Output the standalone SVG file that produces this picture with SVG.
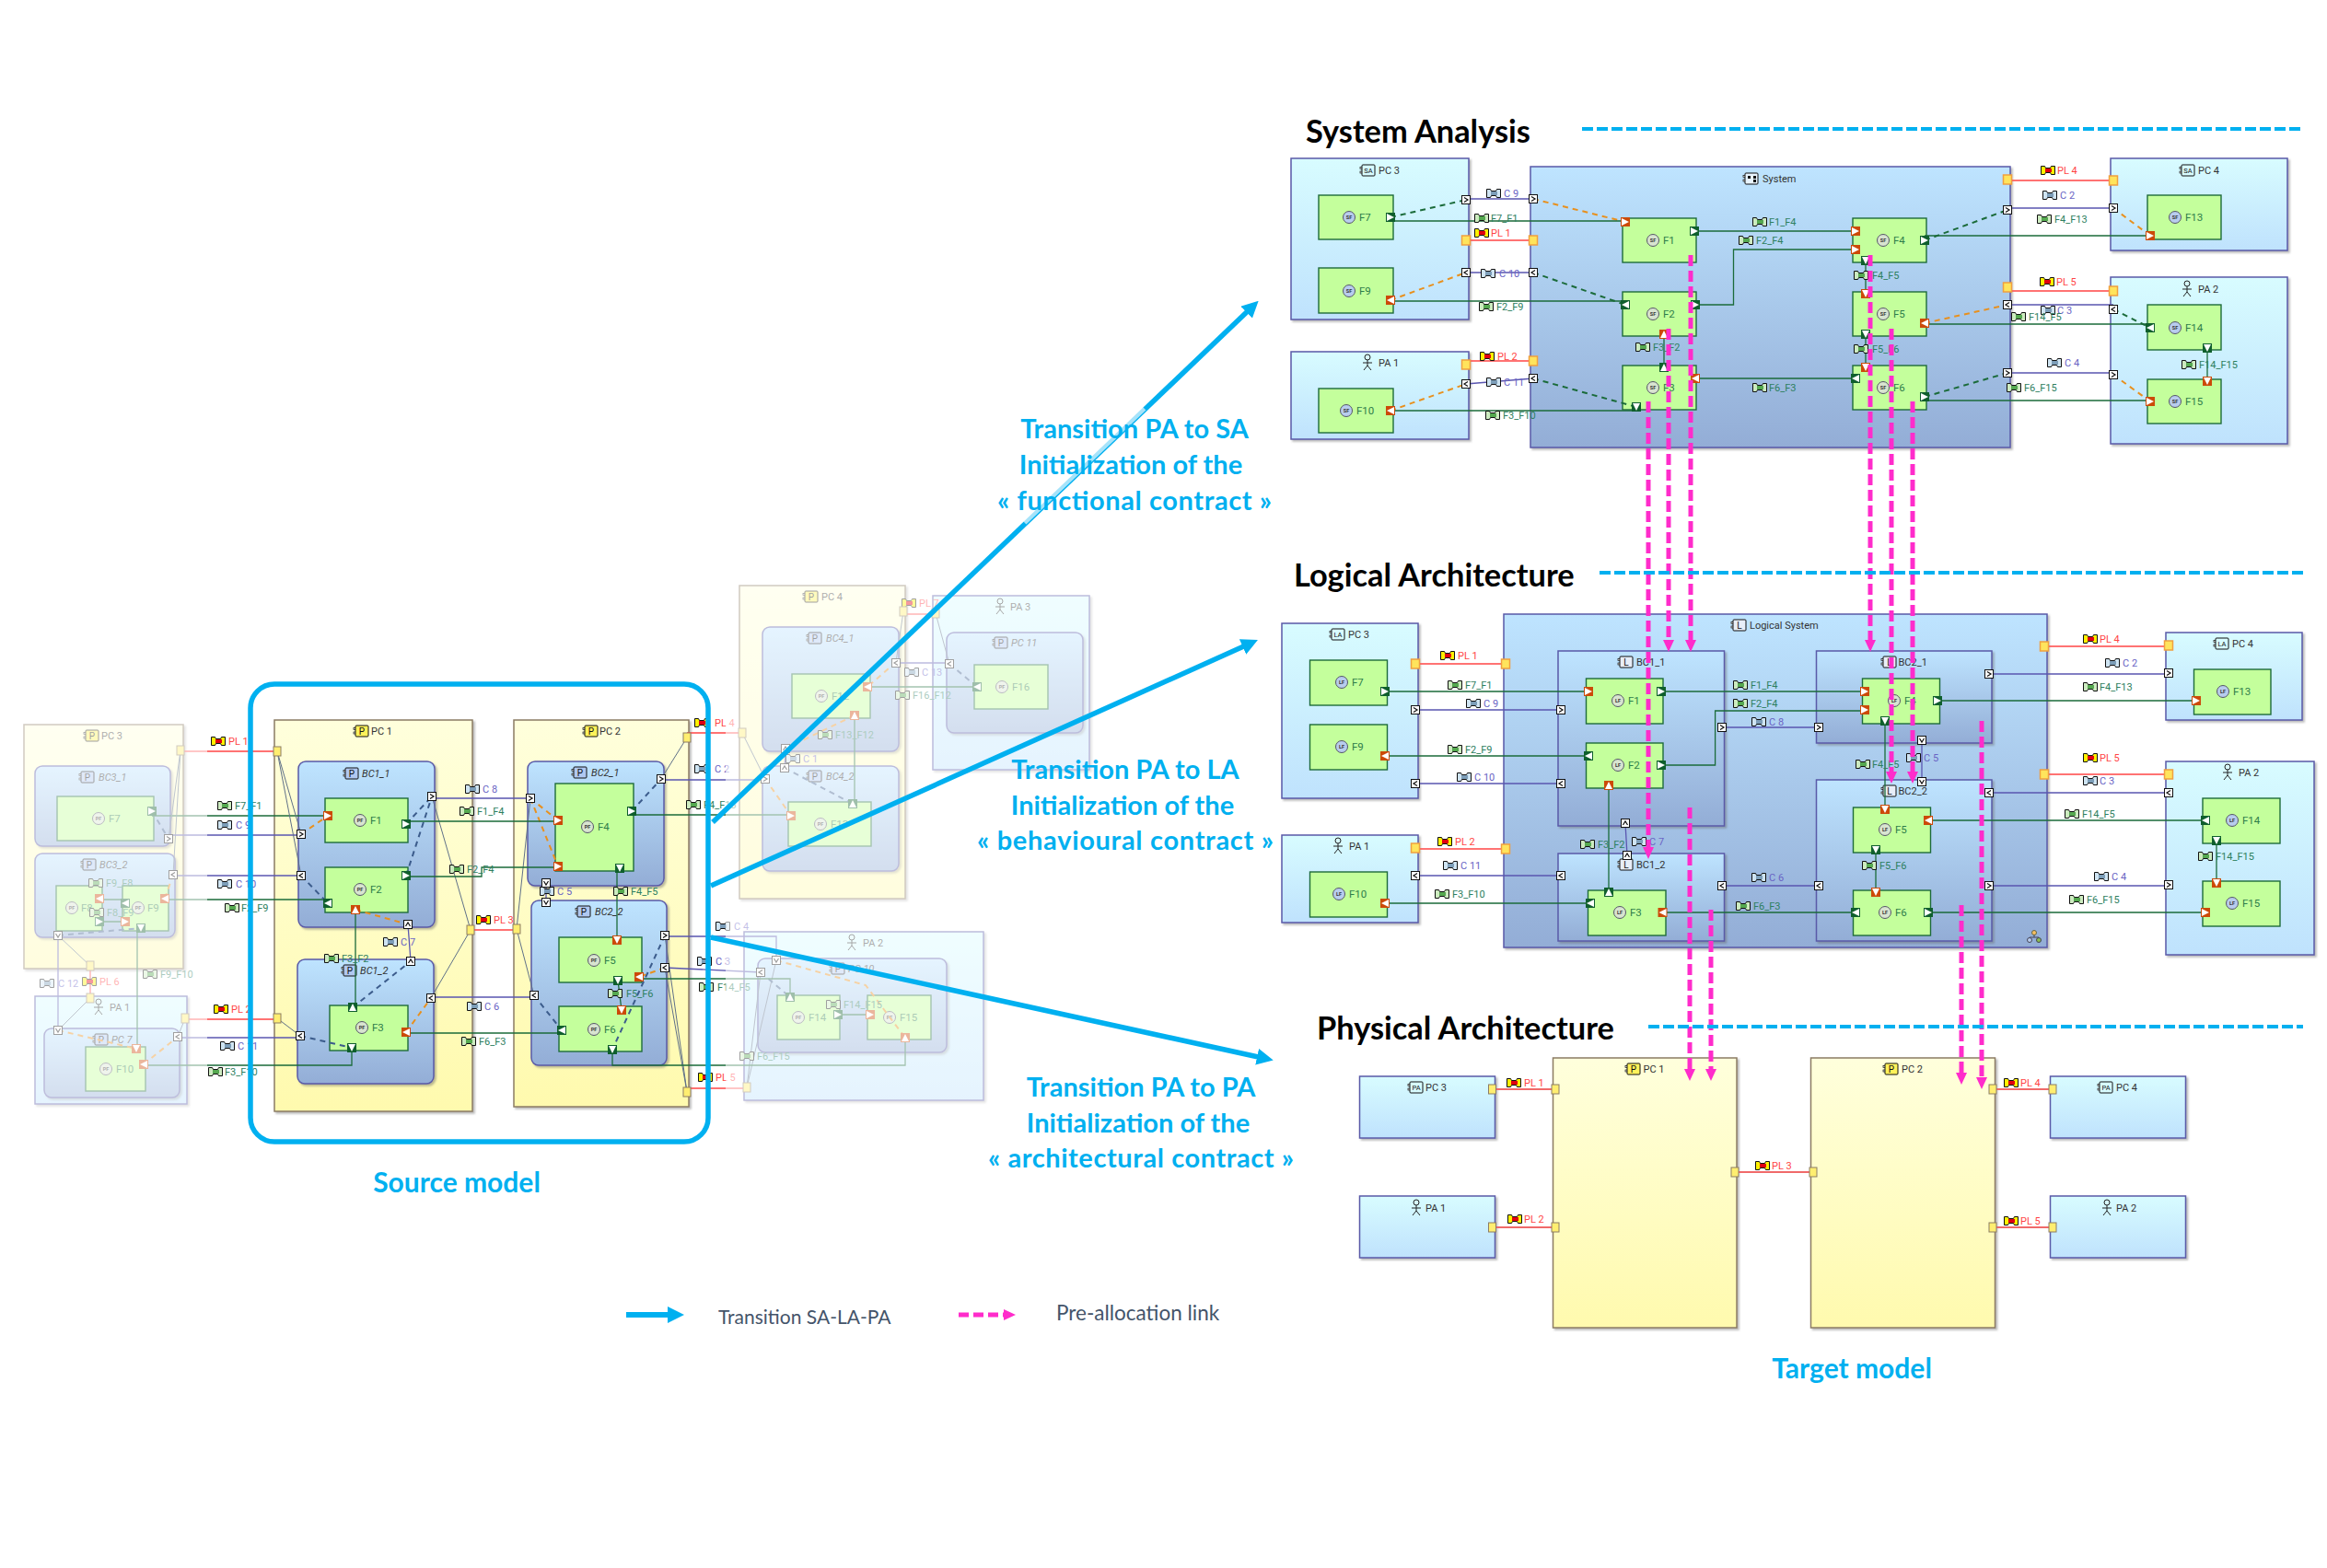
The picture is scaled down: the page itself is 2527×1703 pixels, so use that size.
<svg xmlns="http://www.w3.org/2000/svg" width="2527" height="1703" viewBox="0 0 2527 1703">
<style>
text{font-family:Roboto,"Liberation Sans",Arial,sans-serif;font-size:11px;fill:#444}
.big{font-family:Lato,"Liberation Sans",sans-serif;font-weight:700}
.h{font-size:34.4px;fill:#000}
.b{font-size:29px;fill:#00B0F0;text-anchor:middle}
.b2{font-size:30px;fill:#00B0F0;text-anchor:middle}
.leg{font-family:Lato,"Liberation Sans",sans-serif;font-size:21px;fill:#44546A}
.lf{fill:#2E8060}.lc{fill:#6A64C4}.lp{fill:#FF4545}.fn{fill:#2E7D4A;font-size:11.5px}
.t{fill:#333}.i{font-style:italic}
.ic{font-size:8.5px;fill:#111;text-anchor:middle}
.fi{font-size:5.5px;fill:#333;text-anchor:middle;font-weight:700}
.pc{fill:url(#gpc);stroke:#5A5AA8;stroke-width:1.5;filter:url(#sh)}
.sy{fill:url(#gsy);stroke:#5A5AA8;stroke-width:1.5;filter:url(#sh)}
.ph{fill:url(#gph);stroke:#8C7C64;stroke-width:1.5;filter:url(#sh)}
.fu{fill:#C4FF9C;stroke:#1E6B3A;stroke-width:1.4}
.fx{fill:none;stroke:#1B6B3A;stroke-width:1.3}
.cx{fill:none;stroke:#5A56B0;stroke-width:1.3}
.px{fill:none;stroke:#FF4545;stroke-width:1.4}
.dg{fill:none;stroke:#1B6B3A;stroke-width:2;stroke-dasharray:6 5}
.do{fill:none;stroke:#E8901E;stroke-width:2;stroke-dasharray:6 5}
.db{fill:none;stroke:#3C5C8C;stroke-width:2;stroke-dasharray:6 5}
.al{fill:none;stroke:#5F7088;stroke-width:1}
.mg{fill:none;stroke:#FF2CCB;stroke-width:5;stroke-dasharray:12 5;marker-end:url(#mh)}
.ba{fill:none;stroke:#00B0F0;stroke-width:5.5;marker-end:url(#bh)}
.dsh{fill:none;stroke:#00B0F0;stroke-width:4;stroke-dasharray:12 4}
</style>
<defs>
<linearGradient id="gpc" x1="0" y1="0" x2="0" y2="1"><stop offset="0" stop-color="#D8FCFF"/><stop offset="1" stop-color="#BFE2FD"/></linearGradient>
<linearGradient id="gsy" x1="0" y1="0" x2="0" y2="1"><stop offset="0" stop-color="#BEE4FF"/><stop offset="1" stop-color="#93ADD6"/></linearGradient>
<linearGradient id="gph" x1="0" y1="0" x2="0" y2="1"><stop offset="0" stop-color="#FFFFDC"/><stop offset="1" stop-color="#FFFAAE"/></linearGradient>
<filter id="sh" x="-5%" y="-5%" width="110%" height="110%"><feDropShadow dx="2" dy="2" stdDeviation="1" flood-color="#666" flood-opacity=".45"/></filter>
<marker id="mh" markerUnits="userSpaceOnUse" markerWidth="13" markerHeight="12" refX="5" refY="6" orient="auto"><path d="M0,0L13,6L0,12z" fill="#FF2CCB"/></marker>
<marker id="bh" markerUnits="userSpaceOnUse" markerWidth="18" markerHeight="18" refX="6" refY="9" orient="auto"><path d="M0,0L18,9L0,18z" fill="#00B0F0"/></marker>
<g id="fe"><path d="M-7.5,-4.5h4l1,2h5l1,-2h4v9h-4l-1,-2h-5l-1,2h-4z" fill="#CDEBC0" stroke="#111"/><rect x="-3" y="-2" width="7" height="4" fill="#55A850"/></g>
<g id="ce"><path d="M-7.5,-4.5h4l1,2h5l1,-2h4v9h-4l-1,-2h-5l-1,2h-4z" fill="#CFE4F2" stroke="#111"/><rect x="-3" y="-2" width="7" height="4" fill="#7C9DB8"/></g>
<g id="pl"><path d="M-7.5,-4.5h4l1,2h5l1,-2h4v9h-4l-1,-2h-5l-1,2h-4z" fill="#FFF000" stroke="#111"/><rect x="-3" y="-2" width="7" height="4" fill="#E00010"/></g>
<g id="por"><rect x="-5" y="-5" width="10" height="10" fill="#0F5F2D"/><path d="M-4,-4L4,0L-4,4z" fill="#fff"/></g>
<g id="pol"><use href="#por" transform="rotate(180)"/></g>
<g id="pou"><use href="#por" transform="rotate(-90)"/></g>
<g id="pod"><use href="#por" transform="rotate(90)"/></g>
<g id="pir"><rect x="-5" y="-5" width="10" height="10" fill="#CC4A08"/><path d="M-4,-4L4,0L-4,4z" fill="#fff"/></g>
<g id="pil"><use href="#pir" transform="rotate(180)"/></g>
<g id="piu"><use href="#pir" transform="rotate(-90)"/></g>
<g id="pid"><use href="#pir" transform="rotate(90)"/></g>
<g id="cr"><rect x="-4.5" y="-4.5" width="9" height="9" fill="#fff" stroke="#111" stroke-width="1"/><path d="M-2,-2.5L2,0L-2,2.5" fill="none" stroke="#111" stroke-width="1.2"/></g>
<g id="cl"><use href="#cr" transform="rotate(180)"/></g>
<g id="cu"><use href="#cr" transform="rotate(-90)"/></g>
<g id="cd"><use href="#cr" transform="rotate(90)"/></g>
<rect id="pp" x="-4.5" y="-5" width="9" height="10" fill="#FFE45C" stroke="#F0A040" stroke-width="1.5"/>
<rect id="ppv" x="-4" y="-5" width="8" height="10" fill="#FFEE70" stroke="#8C7C64" stroke-width="1"/>
<g id="lug"><rect x="-9" y="-3.5" width="3" height="2" fill="#fff" stroke="#111" stroke-width=".7"/><rect x="-9" y="1" width="3" height="2" fill="#fff" stroke="#111" stroke-width=".7"/></g>
<g id="icP"><use href="#lug"/><rect x="-7" y="-6" width="14" height="12" rx="1" fill="#FFF25A" stroke="#111"/><text class="ic" y="3.5" style="font-size:10px">P</text></g>
<g id="icPb"><use href="#lug"/><rect x="-7" y="-6" width="14" height="12" rx="1" fill="#B0C8F0" stroke="#111"/><text class="ic" y="3.5" style="font-size:10px">P</text></g>
<g id="icL"><use href="#lug"/><rect x="-7" y="-6" width="14" height="12" rx="1" fill="#E8EEF8" stroke="#111"/><text class="ic" y="3.5" style="font-size:10px">L</text></g>
<g id="icSA"><use href="#lug"/><rect x="-7" y="-6" width="14" height="12" rx="1" fill="#D8FCFF" stroke="#111"/><text class="ic" y="3" style="font-size:7.5px">SA</text></g>
<g id="icLA"><use href="#lug"/><rect x="-7" y="-6" width="14" height="12" rx="1" fill="#D8FCFF" stroke="#111"/><text class="ic" y="3" style="font-size:7.5px">LA</text></g>
<g id="icPA"><use href="#lug"/><rect x="-7" y="-6" width="14" height="12" rx="1" fill="#D8FCFF" stroke="#111"/><text class="ic" y="3" style="font-size:7.5px">PA</text></g>
<g id="icS"><use href="#lug"/><rect x="-7" y="-6" width="14" height="12" rx="1" fill="#E8F4FF" stroke="#111"/><path d="M-4,-3h3v3h-3zM2,-3h3v3h-3zM2,1h3v3h-3z" fill="#111"/></g>
<g id="actor" fill="none" stroke="#222" stroke-width="1"><circle cy="-6" r="3"/><path d="M0,-3V3M-5,0H5M0,3L-4,8M0,3L4,8"/></g>
<g id="sfb"><circle r="6.5" fill="#B8CCEE" stroke="#556"/><text class="fi" y="2">SF</text></g>
<g id="sfg"><circle r="6.5" fill="#D8E4D0" stroke="#556"/><text class="fi" y="2">SF</text></g>
<g id="lfb"><circle r="6.5" fill="#B8CCEE" stroke="#556"/><text class="fi" y="2">LF</text></g>
<g id="lfg"><circle r="6.5" fill="#D8E4D0" stroke="#556"/><text class="fi" y="2">LF</text></g>
<g id="pfg"><circle r="6.5" fill="#D8E4D0" stroke="#556"/><text class="fi" y="2">PF</text></g>
</defs>
<rect width="2527" height="1703" fill="#fff"/>

<g id="source-nodes">
<g id="s-pc3"><rect class="ph" x="26" y="787" width="173" height="265"/><use href="#icP" x="100" y="799"/><text class="t" x="110" y="803">PC 3</text></g>
<g id="s-bc31"><rect class="sy" x="38" y="832" width="147" height="87" rx="8"/><use href="#icPb" x="95" y="844"/><text class="t i" x="107" y="848">BC3_1</text><rect class="fu" x="62" y="865" width="105" height="48"/><use href="#pfg" x="107" y="889"/><text class="fn" x="118" y="893">F7</text></g>
<g id="s-bc32"><rect class="sy" x="38" y="927" width="152" height="91" rx="8"/><use href="#icPb" x="97" y="939"/><text class="t i" x="108" y="943">BC3_2</text><rect class="fu" x="61" y="962" width="50" height="49"/><use href="#pfg" x="78" y="986"/><text class="fn" x="88" y="990">F8</text><rect class="fu" x="133" y="962" width="50" height="49"/><use href="#pfg" x="150" y="986"/><text class="fn" x="160" y="990">F9</text></g>
<g id="s-pa1"><rect class="pc" x="38" y="1082" width="165" height="117"/><use href="#actor" x="107" y="1094"/><text class="t" x="119" y="1098">PA 1</text></g>
<g id="s-pc7"><rect class="sy" x="48" y="1117" width="147" height="75" rx="8"/><use href="#icPb" x="110" y="1129"/><text class="t i" x="121" y="1133">PC 7</text><rect class="fu" x="93" y="1137" width="65" height="48"/><use href="#pfg" x="115" y="1161"/><text class="fn" x="126" y="1165">F10</text></g>
<g id="s-pc1"><rect class="ph" x="298" y="782" width="215" height="425"/><use href="#icP" x="393" y="794"/><text class="t" x="403" y="798">PC 1</text></g>
<g id="s-bc11"><rect class="sy" x="324" y="827" width="148" height="180" rx="8"/><use href="#icPb" x="382" y="840"/><text class="t i" x="393" y="844">BC1_1</text><rect class="fu" x="353" y="867" width="90" height="48"/><use href="#pfg" x="391" y="891"/><text class="fn" x="402" y="895">F1</text><rect class="fu" x="353" y="942" width="90" height="49"/><use href="#pfg" x="391" y="966"/><text class="fn" x="402" y="970">F2</text></g>
<g id="s-bc12"><rect class="sy" x="323" y="1042" width="148" height="135" rx="8"/><use href="#icPb" x="380" y="1054"/><text class="t i" x="391" y="1058">BC1_2</text><rect class="fu" x="358" y="1092" width="85" height="49"/><use href="#pfg" x="393" y="1116"/><text class="fn" x="404" y="1120">F3</text></g>
<g id="s-pc2"><rect class="ph" x="558" y="782" width="190" height="420"/><use href="#icP" x="642" y="794"/><text class="t" x="651" y="798">PC 2</text></g>
<g id="s-bc21"><rect class="sy" x="573" y="827" width="148" height="135" rx="8"/><use href="#icPb" x="630" y="839"/><text class="t i" x="642" y="843">BC2_1</text><rect class="fu" x="603" y="851" width="85" height="95"/><use href="#pfg" x="638" y="898"/><text class="fn" x="649" y="902">F4</text></g>
<g id="s-bc22"><rect class="sy" x="577" y="978" width="147" height="179" rx="8"/><use href="#icPb" x="634" y="990"/><text class="t i" x="646" y="994">BC2_2</text><rect class="fu" x="607" y="1018" width="90" height="49"/><use href="#pfg" x="645" y="1043"/><text class="fn" x="656" y="1047">F5</text><rect class="fu" x="607" y="1093" width="90" height="49"/><use href="#pfg" x="645" y="1118"/><text class="fn" x="656" y="1122">F6</text></g>
<g id="s-pc4"><rect class="ph" x="803" y="636" width="180" height="340"/><use href="#icP" x="881" y="648"/><text class="t" x="892" y="652">PC 4</text></g>
<g id="s-bc41"><rect class="sy" x="828" y="681" width="148" height="135" rx="8"/><use href="#icPb" x="885" y="693"/><text class="t i" x="897" y="697">BC4_1</text><rect class="fu" x="860" y="732" width="85" height="48"/><use href="#pfg" x="892" y="756"/><text class="fn" x="903" y="760">F12</text></g>
<g id="s-bc42"><rect class="sy" x="828" y="832" width="148" height="114" rx="8"/><use href="#icPb" x="885" y="843"/><text class="t i" x="897" y="847">BC4_2</text><rect class="fu" x="856" y="871" width="90" height="48"/><use href="#pfg" x="891" y="895"/><text class="fn" x="902" y="899">F13</text></g>
<g id="s-pa3"><rect class="pc" x="1013" y="647" width="170" height="189"/><use href="#actor" x="1086" y="659"/><text class="t" x="1097" y="663">PA 3</text></g>
<g id="s-pc11"><rect class="sy" x="1028" y="687" width="148" height="109" rx="8"/><use href="#icPb" x="1087" y="698"/><text class="t i" x="1098" y="702">PC 11</text><rect class="fu" x="1058" y="722" width="80" height="48"/><use href="#pfg" x="1088" y="746"/><text class="fn" x="1099" y="750">F16</text></g>
<g id="s-pa2"><rect class="pc" x="808" y="1012" width="260" height="183"/><use href="#actor" x="925" y="1024"/><text class="t" x="937" y="1028">PA 2</text></g>
<g id="s-pc10"><rect class="sy" x="823" y="1041" width="205" height="102" rx="8"/><use href="#icPb" x="910" y="1052"/><text class="t i" x="921" y="1056">PC 10</text><rect class="fu" x="844" y="1081" width="68" height="48"/><use href="#pfg" x="867" y="1105"/><text class="fn" x="878" y="1109">F14</text><rect class="fu" x="942" y="1081" width="69" height="48"/><use href="#pfg" x="966" y="1105"/><text class="fn" x="977" y="1109">F15</text></g>
</g>

<g id="source-connectors">
<path class="px" d="M196,816H301"/><path class="fx" d="M165,886H356"/><path class="cx" d="M183,907H327"/><path class="cx" d="M188,951H327"/><path class="fx" d="M179,977H356"/><path class="px" d="M201,1107H301"/><path class="cx" d="M193,1127H326"/><path class="fx" d="M156,1157H382V1138"/>
<path class="al" d="M301,816L327,906M301,816L327,951M301,1106L326,1125M511,1010L469,865M511,1010L468,1084M561,1009L576,867M561,1009L580,1081M746,801L718,846M746,1186L722,1016M746,1186L722,1051M196,815L183,911M196,815L188,950M98,1049L63,1016M98,1084L63,1119M201,1106L193,1126M806,796L831,846M981,664L973,719M1016,666L1031,721M811,1181L826,1056M811,1181L843,1043"/>
<path class="do" d="M327,906L356,886M386,988L443,1004M441,1121L468,1084M576,867L606,891M576,867L606,941M722,1051L694,1061M179,976L188,950M63,1119L148,1139M156,1156L193,1126M973,719L942,746M853,813L928,777M831,846L859,886M843,1043L940,1070L983,1127"/>
<path class="db" d="M327,951L356,981M441,895L469,865M441,951L469,865M383,1094L446,1044M326,1125L382,1138M580,1081L610,1119M722,1016L665,1140M686,881L718,846M165,881L183,911M63,1016L153,1008M1031,721L1061,746M852,834L926,873M826,1056L858,1083"/>
<path class="fx" d="M386,988V1094M441,892H606M441,952H523V942H606M441,1122H610M670,946V1021M671,1065L675,1097M686,885H859M694,1063H858V1083M665,1140V1157H983V1127M108,977H136M108,1001H136M149,1008V1139M942,746H1061M928,777V873M910,1102H945"/>
<path class="cx" d="M443,1004L446,1044M469,867H576M468,1083H580M593,959V980M718,847H831M722,1017H843V1043M722,1051L826,1056M63,1016V1119M973,720H1031M853,813L852,834"/>
<path class="px" d="M511,1010H561M746,796H806M746,1182H811M98,1049V1084M981,667H1016"/>
<use href="#pl" x="237" y="805"/><text class="lp" x="248" y="809">PL 1</text>
<use href="#fe" x="244" y="875"/><text class="lf" x="255" y="879">F7_F1</text>
<use href="#ce" x="244" y="896"/><text class="lc" x="256" y="900">C 9</text>
<use href="#ce" x="244" y="960"/><text class="lc" x="256" y="964">C 10</text>
<use href="#fe" x="252" y="986"/><text class="lf" x="262" y="990">F2_F9</text>
<use href="#pl" x="240" y="1096"/><text class="lp" x="251" y="1100">PL 2</text>
<use href="#ce" x="247" y="1136"/><text class="lc" x="258" y="1140">C 11</text>
<use href="#fe" x="234" y="1164"/><text class="lf" x="244" y="1168">F3_F10</text>
<use href="#ce" x="513" y="857"/><text class="lc" x="524" y="861">C 8</text>
<use href="#fe" x="507" y="881"/><text class="lf" x="518" y="885">F1_F4</text>
<use href="#fe" x="496" y="944"/><text class="lf" x="507" y="948">F2_F4</text>
<use href="#pl" x="525" y="999"/><text class="lp" x="536" y="1003">PL 3</text>
<use href="#ce" x="424" y="1023"/><text class="lc" x="435" y="1027">C 7</text>
<use href="#fe" x="360" y="1041"/><text class="lf" x="371" y="1045">F3_F2</text>
<use href="#ce" x="515" y="1093"/><text class="lc" x="526" y="1097">C 6</text>
<use href="#fe" x="509" y="1131"/><text class="lf" x="520" y="1135">F6_F3</text>
<use href="#ce" x="594" y="968"/><text class="lc" x="605" y="972">C 5</text>
<use href="#fe" x="674" y="968"/><text class="lf" x="685" y="972">F4_F5</text>
<use href="#fe" x="668" y="1079"/><text class="lf" x="680" y="1083">F5_F6</text>
<use href="#pl" x="762" y="785"/><text class="lp" x="776" y="789">PL 4</text>
<use href="#ce" x="762" y="835"/><text class="lc" x="776" y="839">C 2</text>
<use href="#fe" x="753" y="874"/><text class="lf" x="764" y="878">F4_F13</text>
<use href="#ce" x="785" y="1006"/><text class="lc" x="797" y="1010">C 4</text>
<use href="#ce" x="765" y="1044"/><text class="lc" x="777" y="1048">C 3</text>
<use href="#fe" x="767" y="1072"/><text class="lf" x="779" y="1076">F14_F5</text>
<use href="#fe" x="811" y="1147"/><text class="lf" x="822" y="1151">F6_F15</text>
<use href="#pl" x="766" y="1170"/><text class="lp" x="777" y="1174">PL 5</text>
<use href="#pl" x="97" y="1066"/><text class="lp" x="108" y="1070">PL 6</text>
<use href="#ce" x="51" y="1068"/><text class="lc" x="63" y="1072">C 12</text>
<use href="#fe" x="163" y="1058"/><text class="lf" x="174" y="1062">F9_F10</text>
<use href="#fe" x="104" y="959"/><text class="lf" x="115" y="963">F9_F8</text>
<use href="#fe" x="105" y="991"/><text class="lf" x="116" y="995">F8_F9</text>
<use href="#pl" x="987" y="655"/><text class="lp" x="998" y="659">PL 7</text>
<use href="#ce" x="990" y="730"/><text class="lc" x="1001" y="734">C 13</text>
<use href="#fe" x="980" y="755"/><text class="lf" x="991" y="759">F16_F12</text>
<use href="#fe" x="896" y="798"/><text class="lf" x="907" y="802">F13_F12</text>
<use href="#ce" x="861" y="824"/><text class="lc" x="872" y="828">C 1</text>
<use href="#fe" x="905" y="1091"/><text class="lf" x="916" y="1095">F14_F15</text>
</g>

<g id="source-ports">
<use href="#ppv" x="301" y="816"/><use href="#ppv" x="301" y="1106"/><use href="#ppv" x="511" y="1010"/><use href="#ppv" x="561" y="1009"/><use href="#ppv" x="746" y="801"/><use href="#ppv" x="746" y="1186"/>
<use href="#ppv" x="196" y="815"/><use href="#ppv" x="98" y="1049"/><use href="#ppv" x="98" y="1084"/><use href="#ppv" x="201" y="1106"/><use href="#ppv" x="806" y="796"/><use href="#ppv" x="811" y="1181"/><use href="#ppv" x="981" y="664"/><use href="#ppv" x="1016" y="666"/>
<use href="#pir" x="356" y="886"/><use href="#por" x="441" y="895"/><use href="#por" x="441" y="951"/><use href="#pol" x="356" y="981"/><use href="#piu" x="386" y="988"/><use href="#pou" x="383" y="1094"/><use href="#pod" x="382" y="1138"/><use href="#pil" x="441" y="1121"/>
<use href="#pir" x="606" y="891"/><use href="#pir" x="606" y="941"/><use href="#por" x="686" y="881"/><use href="#pod" x="673" y="943"/><use href="#pid" x="670" y="1021"/><use href="#pod" x="671" y="1065"/><use href="#pil" x="694" y="1061"/><use href="#pid" x="675" y="1097"/><use href="#pol" x="610" y="1119"/><use href="#pod" x="665" y="1140"/>
<use href="#cr" x="327" y="906"/><use href="#cl" x="327" y="951"/><use href="#cu" x="443" y="1004"/><use href="#cu" x="446" y="1044"/><use href="#cl" x="326" y="1125"/><use href="#cl" x="468" y="1084"/><use href="#cl" x="580" y="1081"/><use href="#cr" x="469" y="865"/><use href="#cr" x="576" y="867"/><use href="#cr" x="718" y="846"/><use href="#cd" x="593" y="959"/><use href="#cd" x="593" y="980"/><use href="#cr" x="722" y="1016"/><use href="#cl" x="722" y="1051"/>
<use href="#por" x="165" y="881"/><use href="#cr" x="183" y="911"/><use href="#cl" x="188" y="950"/><use href="#pil" x="179" y="976"/><use href="#pil" x="108" y="976"/><use href="#pol" x="136" y="981"/><use href="#por" x="108" y="1001"/><use href="#pir" x="136" y="1001"/><use href="#pod" x="153" y="1008"/><use href="#cd" x="63" y="1016"/><use href="#cd" x="63" y="1119"/><use href="#pid" x="148" y="1139"/><use href="#cl" x="193" y="1126"/><use href="#pil" x="156" y="1156"/>
<use href="#cr" x="831" y="846"/><use href="#pir" x="859" y="886"/><use href="#cu" x="853" y="813"/><use href="#cu" x="852" y="834"/><use href="#piu" x="928" y="777"/><use href="#pou" x="926" y="873"/><use href="#pil" x="942" y="746"/><use href="#cl" x="973" y="720"/><use href="#cl" x="1031" y="721"/><use href="#pol" x="1061" y="746"/>
<use href="#cl" x="826" y="1056"/><use href="#cd" x="843" y="1043"/><use href="#pou" x="858" y="1083"/><use href="#por" x="910" y="1102"/><use href="#pir" x="945" y="1102"/><use href="#piu" x="983" y="1127"/>
</g>
<rect id="fade-left" x="0" y="760" width="225" height="460" fill="#fff" opacity=".6"/>
<rect id="fade-right" x="788" y="620" width="400" height="600" fill="#fff" opacity=".6"/>

<g id="sa-nodes">
<g id="sa-pc3"><rect class="pc" x="1402" y="172" width="193" height="175"/><use href="#icSA" x="1486" y="185"/><text class="t" x="1497" y="189">PC 3</text><rect class="fu" x="1432" y="212" width="81" height="48"/><use href="#sfb" x="1465" y="236"/><text class="fn" x="1476" y="240">F7</text><rect class="fu" x="1432" y="291" width="81" height="49"/><use href="#sfb" x="1465" y="316"/><text class="fn" x="1476" y="320">F9</text></g>
<g id="sa-pa1"><rect class="pc" x="1402" y="382" width="193" height="95"/><use href="#actor" x="1485" y="394"/><text class="t" x="1497" y="398">PA 1</text><rect class="fu" x="1432" y="422" width="81" height="48"/><use href="#sfb" x="1462" y="446"/><text class="fn" x="1473" y="450">F10</text></g>
<g id="sa-system"><rect class="sy" x="1662" y="181" width="521" height="305"/><use href="#icS" x="1902" y="194"/><text class="t" x="1914" y="198">System</text>
<rect class="fu" x="1762" y="237" width="80" height="48"/><use href="#sfg" x="1795" y="261"/><text class="fn" x="1806" y="265">F1</text>
<rect class="fu" x="1762" y="317" width="80" height="48"/><use href="#sfg" x="1795" y="341"/><text class="fn" x="1806" y="345">F2</text>
<rect class="fu" x="1762" y="397" width="80" height="48"/><use href="#sfg" x="1795" y="421"/><text class="fn" x="1806" y="425">F3</text>
<rect class="fu" x="2012" y="237" width="80" height="48"/><use href="#sfg" x="2045" y="261"/><text class="fn" x="2056" y="265">F4</text>
<rect class="fu" x="2012" y="317" width="80" height="48"/><use href="#sfg" x="2045" y="341"/><text class="fn" x="2056" y="345">F5</text>
<rect class="fu" x="2012" y="397" width="80" height="48"/><use href="#sfg" x="2045" y="421"/><text class="fn" x="2056" y="425">F6</text></g>
<g id="sa-pc4"><rect class="pc" x="2292" y="172" width="192" height="100"/><use href="#icSA" x="2376" y="185"/><text class="t" x="2387" y="189">PC 4</text><rect class="fu" x="2332" y="212" width="80" height="48"/><use href="#sfb" x="2362" y="236"/><text class="fn" x="2373" y="240">F13</text></g>
<g id="sa-pa2"><rect class="pc" x="2292" y="301" width="192" height="181"/><use href="#actor" x="2375" y="314"/><text class="t" x="2387" y="318">PA 2</text><rect class="fu" x="2332" y="331" width="80" height="49"/><use href="#sfb" x="2362" y="356"/><text class="fn" x="2373" y="360">F14</text><rect class="fu" x="2332" y="412" width="80" height="48"/><use href="#sfb" x="2362" y="436"/><text class="fn" x="2373" y="440">F15</text></g>
</g>

<g id="sa-connectors">
<path class="cx" d="M1592,216H1665M1592,296H1665M1592,417L1665,411M2180,226H2295M2180,331H2295M2180,405L2295,405"/>
<path class="px" d="M1592,261H1665M1592,392H1665M2180,196H2295M2180,316H2295"/>
<path class="dg" d="M1510,236L1592,217M1665,296L1765,331M1665,411L1777,442M2090,261L2180,228M2295,336L2335,356M2090,431L2180,405"/>
<path class="do" d="M1665,216L1765,241M1510,326L1592,296M1510,446L1592,417M2295,226L2335,256M2090,351L2180,331M2295,407L2335,436"/>
<path class="fx" d="M1510,240H1765M1510,327H1765M1510,446H1777M1840,251H2015M1841,331H1882.5V271H2015M1807,363V399M1841,411H2015M2026,283V319M2026,363V399M2090,256H2335M2090,352H2335M2090,435H2335M2397,378V414"/>
<use href="#ce" x="1622" y="210"/><text class="lc" x="1633" y="214">C 9</text>
<use href="#fe" x="1609" y="237"/><text class="lf" x="1619" y="241">F7_F1</text>
<use href="#pl" x="1609" y="253"/><text class="lp" x="1619" y="257">PL 1</text>
<use href="#ce" x="1616" y="297"/><text class="lc" x="1628" y="301">C 10</text>
<use href="#fe" x="1614" y="333"/><text class="lf" x="1625" y="337">F2_F9</text>
<use href="#pl" x="1615" y="387"/><text class="lp" x="1626" y="391">PL 2</text>
<use href="#ce" x="1622" y="415"/><text class="lc" x="1633" y="419">C 11</text>
<use href="#fe" x="1621" y="451"/><text class="lf" x="1632" y="455">F3_F10</text>
<use href="#fe" x="1911" y="241"/><text class="lf" x="1921" y="245">F1_F4</text>
<use href="#fe" x="1896" y="261"/><text class="lf" x="1907" y="265">F2_F4</text>
<use href="#fe" x="1784" y="377"/><text class="lf" x="1795" y="381">F3_F2</text>
<use href="#fe" x="1911" y="421"/><text class="lf" x="1921" y="425">F6_F3</text>
<use href="#fe" x="2021" y="299"/><text class="lf" x="2033" y="303">F4_F5</text>
<use href="#fe" x="2021" y="379"/><text class="lf" x="2033" y="383">F5_F6</text>
<use href="#pl" x="2224" y="185"/><text class="lp" x="2234" y="189">PL 4</text>
<use href="#ce" x="2226" y="212"/><text class="lc" x="2237" y="216">C 2</text>
<use href="#fe" x="2220" y="238"/><text class="lf" x="2231" y="242">F4_F13</text>
<use href="#pl" x="2223" y="306"/><text class="lp" x="2233" y="310">PL 5</text>
<use href="#ce" x="2224" y="337"/><text class="lc" x="2234" y="341">C 3</text>
<use href="#fe" x="2192" y="344"/><text class="lf" x="2203" y="348">F14_F5</text>
<use href="#ce" x="2231" y="394"/><text class="lc" x="2242" y="398">C 4</text>
<use href="#fe" x="2187" y="421"/><text class="lf" x="2198" y="425">F6_F15</text>
<use href="#fe" x="2377" y="396"/><text class="lf" x="2388" y="400">F14_F15</text>
</g>

<g id="sa-ports">
<use href="#cr" x="1592" y="217"/><use href="#cr" x="1665" y="216"/><use href="#pp" x="1592" y="261"/><use href="#pp" x="1665" y="261"/><use href="#cl" x="1592" y="296"/><use href="#cl" x="1665" y="296"/><use href="#pp" x="1592" y="396"/><use href="#pp" x="1665" y="392"/><use href="#cl" x="1592" y="417"/><use href="#cl" x="1665" y="411"/>
<use href="#por" x="1510" y="236"/><use href="#pil" x="1510" y="326"/><use href="#pil" x="1510" y="446"/><use href="#pir" x="1765" y="241"/><use href="#pol" x="1765" y="331"/><use href="#pod" x="1777" y="442"/><use href="#por" x="1840" y="251"/><use href="#por" x="1841" y="331"/><use href="#piu" x="1807" y="363"/><use href="#pou" x="1807" y="399"/><use href="#pil" x="1841" y="411"/>
<use href="#pir" x="2015" y="251"/><use href="#pir" x="2015" y="271"/><use href="#pol" x="2015" y="411"/><use href="#pod" x="2026" y="283"/><use href="#pid" x="2026" y="319"/><use href="#pod" x="2026" y="363"/><use href="#pid" x="2026" y="399"/><use href="#por" x="2090" y="261"/><use href="#pil" x="2090" y="351"/><use href="#por" x="2090" y="431"/>
<use href="#pp" x="2180" y="195"/><use href="#pp" x="2295" y="196"/><use href="#cr" x="2180" y="228"/><use href="#cr" x="2295" y="226"/><use href="#pp" x="2180" y="312"/><use href="#pp" x="2295" y="316"/><use href="#cl" x="2180" y="331"/><use href="#cl" x="2295" y="336"/><use href="#cr" x="2180" y="405"/><use href="#cr" x="2295" y="407"/>
<use href="#pir" x="2335" y="256"/><use href="#pol" x="2335" y="356"/><use href="#pir" x="2335" y="436"/><use href="#pod" x="2397" y="378"/><use href="#pid" x="2397" y="414"/>
</g>

<g id="la-nodes">
<g id="la-pc3"><rect class="pc" x="1392" y="677" width="148" height="190"/><use href="#icLA" x="1453" y="689"/><text class="t" x="1464" y="693">PC 3</text><rect class="fu" x="1422.5" y="717" width="84" height="49"/><use href="#lfb" x="1457" y="741"/><text class="fn" x="1468" y="745">F7</text><rect class="fu" x="1422.5" y="787" width="84" height="49"/><use href="#lfb" x="1457" y="811"/><text class="fn" x="1468" y="815">F9</text></g>
<g id="la-pa1"><rect class="pc" x="1392" y="907" width="148" height="95"/><use href="#actor" x="1453" y="919"/><text class="t" x="1465" y="923">PA 1</text><rect class="fu" x="1422.5" y="947" width="84" height="49"/><use href="#lfb" x="1454" y="971"/><text class="fn" x="1465" y="975">F10</text></g>
<g id="la-system"><rect class="sy" x="1633" y="667" width="590" height="362"/><use href="#icL" x="1889" y="679"/><text class="t" x="1900" y="683">Logical System</text>
<g transform="translate(2209,1017)"><circle cy="-4" r="2.5" fill="#F8C060" stroke="#664"/><path d="M0,-1.5V1M-5,1H5" fill="none" stroke="#445"/><circle cx="-5" cy="4" r="2.5" fill="#B8CCEE" stroke="#445"/><circle cx="5" cy="4" r="2.5" fill="#8CBF50" stroke="#445"/></g></g>
<g id="la-bc11"><rect class="sy" x="1692" y="707" width="180.5" height="190"/><use href="#icL" x="1766" y="719"/><text class="t" x="1777" y="723">BC1_1</text><rect class="fu" x="1722.5" y="737" width="83.5" height="49"/><use href="#lfg" x="1757" y="761"/><text class="fn" x="1768" y="765">F1</text><rect class="fu" x="1722.5" y="807" width="83.5" height="49"/><use href="#lfg" x="1757" y="831"/><text class="fn" x="1768" y="835">F2</text></g>
<g id="la-bc12"><rect class="sy" x="1692" y="927" width="180.5" height="95"/><use href="#icL" x="1766" y="939"/><text class="t" x="1777" y="943">BC1_2</text><rect class="fu" x="1724.5" y="967" width="84.5" height="49"/><use href="#lfg" x="1759" y="991"/><text class="fn" x="1770" y="995">F3</text></g>
<g id="la-bc21"><rect class="sy" x="1972.5" y="707" width="190.5" height="100"/><use href="#icL" x="2052" y="719"/><text class="t" x="2061.5" y="723">BC2_1</text><rect class="fu" x="2022.5" y="737" width="84" height="49"/><use href="#lfg" x="2057" y="761"/><text class="fn" x="2068" y="765">F4</text></g>
<g id="la-bc22"><rect class="sy" x="1972.5" y="847" width="190.5" height="175"/><use href="#icL" x="2052" y="859"/><text class="t" x="2061.5" y="863">BC2_2</text><rect class="fu" x="2012.5" y="877" width="84" height="49"/><use href="#lfg" x="2047" y="901"/><text class="fn" x="2058" y="905">F5</text><rect class="fu" x="2012.5" y="967" width="84" height="49"/><use href="#lfg" x="2047" y="991"/><text class="fn" x="2058" y="995">F6</text></g>
<g id="la-pc4"><rect class="pc" x="2352" y="687" width="148" height="95"/><use href="#icLA" x="2413" y="699"/><text class="t" x="2424" y="703">PC 4</text><rect class="fu" x="2382.5" y="727" width="83.5" height="49"/><use href="#lfb" x="2414" y="751"/><text class="fn" x="2425" y="755">F13</text></g>
<g id="la-pa2"><rect class="pc" x="2352" y="827" width="161" height="210"/><use href="#actor" x="2419" y="839"/><text class="t" x="2431" y="843">PA 2</text><rect class="fu" x="2392" y="867" width="84" height="49"/><use href="#lfb" x="2424" y="891"/><text class="fn" x="2435" y="895">F14</text><rect class="fu" x="2392" y="957" width="84" height="49"/><use href="#lfb" x="2424" y="981"/><text class="fn" x="2435" y="985">F15</text></g>
</g>

<g id="la-connectors">
<path class="px" d="M1537,721H1635M1537,922H1635M2220,702H2355M2220,841H2355"/>
<path class="cx" d="M1537,771H1695M1537,851H1695M1537,951H1695M1870,790H1975M1870,962H1975M1765,894L1767,929M2160,732H2355M2087,804V849M2160,861H2355M2160,962H2355"/>
<path class="fx" d="M1504,751H1725M1504,821H1725M1504,981H1727M1804,751H2025M1804,831H1862.6V772H2025M1747,853V969M1805.5,991H2015M2104,761H2385M2047,783V879M2094,891H2395M2037,923V969M2407,913V959M2094,991H2395"/>
<use href="#pl" x="1572" y="712"/><text class="lp" x="1583" y="716">PL 1</text>
<use href="#fe" x="1580" y="744"/><text class="lf" x="1591" y="748">F7_F1</text>
<use href="#ce" x="1600" y="764"/><text class="lc" x="1611" y="768">C 9</text>
<use href="#fe" x="1580" y="814"/><text class="lf" x="1591" y="818">F2_F9</text>
<use href="#ce" x="1590" y="844"/><text class="lc" x="1601" y="848">C 10</text>
<use href="#pl" x="1569" y="914"/><text class="lp" x="1580" y="918">PL 2</text>
<use href="#ce" x="1575" y="940"/><text class="lc" x="1586" y="944">C 11</text>
<use href="#fe" x="1566" y="971"/><text class="lf" x="1577" y="975">F3_F10</text>
<use href="#fe" x="1890" y="744"/><text class="lf" x="1901" y="748">F1_F4</text>
<use href="#fe" x="1890" y="764"/><text class="lf" x="1901" y="768">F2_F4</text>
<use href="#ce" x="1910" y="784"/><text class="lc" x="1921" y="788">C 8</text>
<use href="#fe" x="1724" y="917"/><text class="lf" x="1735" y="921">F3_F2</text>
<use href="#ce" x="1780" y="914"/><text class="lc" x="1791" y="918">C 7</text>
<use href="#ce" x="1910" y="953"/><text class="lc" x="1921" y="957">C 6</text>
<use href="#fe" x="1893" y="984"/><text class="lf" x="1904" y="988">F6_F3</text>
<use href="#pl" x="2270" y="694"/><text class="lp" x="2280" y="698">PL 4</text>
<use href="#ce" x="2294" y="720"/><text class="lc" x="2305" y="724">C 2</text>
<use href="#fe" x="2270" y="746"/><text class="lf" x="2280" y="750">F4_F13</text>
<use href="#fe" x="2023" y="830"/><text class="lf" x="2033" y="834">F4_F5</text>
<use href="#ce" x="2078" y="823"/><text class="lc" x="2089" y="827">C 5</text>
<use href="#pl" x="2270" y="823"/><text class="lp" x="2280" y="827">PL 5</text>
<use href="#ce" x="2270" y="848"/><text class="lc" x="2280" y="852">C 3</text>
<use href="#fe" x="2250" y="884"/><text class="lf" x="2261" y="888">F14_F5</text>
<use href="#fe" x="2030" y="940"/><text class="lf" x="2041" y="944">F5_F6</text>
<use href="#fe" x="2395" y="930"/><text class="lf" x="2406" y="934">F14_F15</text>
<use href="#ce" x="2282" y="952"/><text class="lc" x="2293" y="956">C 4</text>
<use href="#fe" x="2255" y="977"/><text class="lf" x="2266" y="981">F6_F15</text>
</g>

<g id="la-ports">
<use href="#pp" x="1537" y="721"/><use href="#pp" x="1635" y="721"/><use href="#pp" x="1537" y="921"/><use href="#pp" x="1635" y="922"/><use href="#pp" x="2220" y="702"/><use href="#pp" x="2355" y="701"/><use href="#pp" x="2220" y="841"/><use href="#pp" x="2355" y="841"/>
<use href="#cr" x="1537" y="771"/><use href="#cr" x="1695" y="771"/><use href="#cl" x="1537" y="851"/><use href="#cl" x="1695" y="851"/><use href="#cl" x="1537" y="951"/><use href="#cl" x="1695" y="951"/><use href="#cr" x="1870" y="790"/><use href="#cr" x="1975" y="790"/><use href="#cl" x="1870" y="962"/><use href="#cl" x="1975" y="962"/><use href="#cu" x="1765" y="894"/><use href="#cu" x="1767" y="929"/><use href="#cr" x="2160" y="732"/><use href="#cr" x="2355" y="731"/><use href="#cd" x="2087" y="804"/><use href="#cd" x="2087" y="849"/><use href="#cl" x="2160" y="861"/><use href="#cl" x="2355" y="861"/><use href="#cr" x="2160" y="962"/><use href="#cr" x="2355" y="961"/>
<use href="#por" x="1504" y="751"/><use href="#pil" x="1504" y="821"/><use href="#pil" x="1504" y="981"/><use href="#pir" x="1725" y="751"/><use href="#pol" x="1725" y="821"/><use href="#pol" x="1727" y="981"/><use href="#por" x="1804" y="751"/><use href="#por" x="1804" y="831"/><use href="#piu" x="1747" y="853"/><use href="#pou" x="1747" y="969"/><use href="#pil" x="1805.5" y="991"/>
<use href="#pir" x="2025" y="751"/><use href="#pir" x="2025" y="771"/><use href="#por" x="2104" y="761"/><use href="#pod" x="2047" y="783"/><use href="#pid" x="2047" y="879"/><use href="#pil" x="2094" y="891"/><use href="#pod" x="2037" y="923"/><use href="#pid" x="2037" y="969"/><use href="#pol" x="2015" y="991"/><use href="#por" x="2094" y="991"/>
<use href="#pir" x="2385" y="761"/><use href="#pol" x="2395" y="891"/><use href="#pod" x="2407" y="913"/><use href="#pid" x="2407" y="959"/><use href="#pir" x="2395" y="991"/>
</g>

<g id="pa-nodes">
<g id="pa-pc3"><rect class="pc" x="1476.5" y="1169" width="147" height="67"/><use href="#icPA" x="1538" y="1181"/><text class="t" x="1548" y="1185">PC 3</text></g>
<g id="pa-pa1"><rect class="pc" x="1476.5" y="1299" width="147" height="67"/><use href="#actor" x="1538" y="1312"/><text class="t" x="1548" y="1316">PA 1</text></g>
<g id="pa-pc1"><rect class="ph" x="1686.5" y="1149" width="199.5" height="293"/><use href="#icP" x="1774" y="1161"/><text class="t" x="1784.5" y="1165">PC 1</text></g>
<g id="pa-pc2"><rect class="ph" x="1966.5" y="1149" width="200" height="293"/><use href="#icP" x="2054" y="1161"/><text class="t" x="2065" y="1165">PC 2</text></g>
<g id="pa-pc4"><rect class="pc" x="2226.5" y="1169" width="147" height="67"/><use href="#icPA" x="2287" y="1181"/><text class="t" x="2298" y="1185">PC 4</text></g>
<g id="pa-pa2"><rect class="pc" x="2226.5" y="1299" width="147" height="67"/><use href="#actor" x="2288" y="1312"/><text class="t" x="2298" y="1316">PA 2</text></g>
</g>
<g id="pa-connectors">
<path class="px" d="M1620,1183H1689M1620,1333H1689M1884,1273H1969M2164,1183H2229M2164,1333H2229" style="stroke:#F06A6A;stroke-width:2"/>
<use href="#pl" x="1644" y="1176"/><text class="lp" x="1655" y="1180">PL 1</text>
<use href="#pl" x="1645" y="1324"/><text class="lp" x="1655" y="1328">PL 2</text>
<use href="#pl" x="1914" y="1266"/><text class="lp" x="1924" y="1270">PL 3</text>
<use href="#pl" x="2184" y="1176"/><text class="lp" x="2194" y="1180">PL 4</text>
<use href="#pl" x="2184" y="1326"/><text class="lp" x="2194" y="1330">PL 5</text>
</g>
<g id="pa-ports">
<use href="#ppv" x="1620.5" y="1183"/><use href="#ppv" x="1689" y="1183"/><use href="#ppv" x="1620.5" y="1333"/><use href="#ppv" x="1689" y="1333"/><use href="#ppv" x="1884" y="1273"/><use href="#ppv" x="1969" y="1273"/><use href="#ppv" x="2164" y="1183"/><use href="#ppv" x="2229" y="1183"/><use href="#ppv" x="2164" y="1333"/><use href="#ppv" x="2229" y="1333"/>
</g>

<g id="transitions">
<rect x="272" y="743" width="497" height="497" rx="26" fill="none" stroke="#00B0F0" stroke-width="5.5"/>
<path class="ba" d="M774,893L1358,335"/>
<path d="M1242,443L1112,567" stroke="#fff" stroke-width="7" opacity=".65" fill="none"/>
<path class="ba" d="M772,962L1355,700"/>
<path class="ba" d="M772,1018L1371,1149"/>
<path class="mg" d="M1836,277V700"/><path class="mg" d="M1812,357V700"/><path class="mg" d="M1790,436V925"/>
<path class="mg" d="M2031,277V700"/><path class="mg" d="M2054,357V843"/><path class="mg" d="M2077,436V843"/>
<path class="mg" d="M1835,877V1166"/><path class="mg" d="M1858,988V1166"/><path class="mg" d="M2130,983V1170"/><path class="mg" d="M2152,783V1175"/>
<path class="dsh" d="M1718,140H2498"/><path class="dsh" d="M1737,622H2501"/><path class="dsh" d="M1790,1115H2501"/>
</g>

<g id="captions">
<text class="big h" x="1418" y="155">System Analysis</text>
<text class="big h" x="1405" y="637">Logical Architecture</text>
<text class="big h" x="1430" y="1129">Physical Architecture</text>
<text class="big b" x="1232" y="476">Transition PA to SA</text>
<text class="big b" x="1228" y="515">Initialization of the</text>
<text class="big b" x="1232" y="554" textLength="298">« functional contract »</text>
<text class="big b" x="1222" y="846">Transition PA to LA</text>
<text class="big b" x="1219" y="885">Initialization of the</text>
<text class="big b" x="1222" y="923" textLength="322">« behavioural contract »</text>
<text class="big b" x="1239" y="1191">Transition PA to PA</text>
<text class="big b" x="1236" y="1230">Initialization of the</text>
<text class="big b" x="1239" y="1268" textLength="332">« architectural contract »</text>
<text class="big b2" x="496" y="1295">Source model</text>
<text class="big b2" x="2011" y="1497">Target model</text>
</g>
<g id="legend">
<path d="M680,1428H725" stroke="#00B0F0" stroke-width="6" fill="none"/><path d="M725,1419L743,1428L725,1437z" fill="#00B0F0"/>
<text class="leg" x="780" y="1438">Transition SA-LA-PA</text>
<path d="M1041,1428H1090" stroke="#FF2CCB" stroke-width="5" stroke-dasharray="11 5" fill="none"/><path d="M1090,1422L1103,1428L1090,1434z" fill="#FF2CCB"/>
<text class="leg" x="1147" y="1434" style="font-size:22.5px">Pre-allocation link</text>
</g>
</svg>
